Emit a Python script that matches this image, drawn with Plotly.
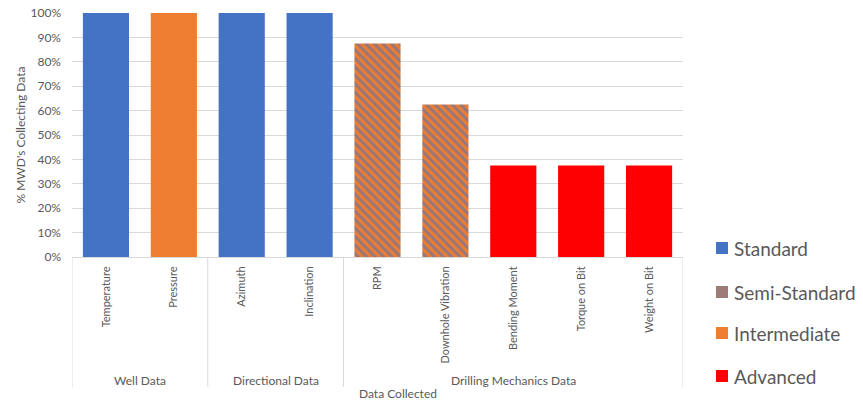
import plotly.graph_objects as go

categories = ["Temperature", "Pressure", "Azimuth", "Inclination", "RPM",
              "Downhole Vibration", "Bending Moment", "Torque on Bit", "Weight on Bit"]
values = [1.0, 1.0, 1.0, 1.0, 0.875, 0.625, 0.375, 0.375, 0.375]
levels = ["Standard", "Intermediate", "Standard", "Standard", "Semi-Standard",
          "Semi-Standard", "Advanced", "Advanced", "Advanced"]
groups = ["Well Data", "Directional Data", "Drilling Mechanics Data"]
group_sizes = [2, 2, 5]
legend_order = ["Standard", "Semi-Standard", "Intermediate", "Advanced"]
level_colors = {"Standard": "#4472C4", "Semi-Standard": "#9C7B78",
                "Intermediate": "#ED7D31", "Advanced": "#FF0000"}

FONT = "Lato"
GRAY = "#595959"

fig = go.Figure()
for lvl in legend_order:
    xs = [c for c, l in zip(categories, levels) if l == lvl]
    ys = [v for v, l in zip(values, levels) if l == lvl]
    if lvl == "Semi-Standard":
        marker = dict(color="#ED7D31",
                      pattern=dict(shape="\\", fgcolor="#4472C4", bgcolor="#ED7D31",
                                   size=6, solidity=0.5, fillmode="overlay"),
                      line=dict(width=0))
    else:
        marker = dict(color=level_colors[lvl], line=dict(width=0))
    fig.add_trace(go.Bar(x=xs, y=ys, name=lvl, marker=marker, width=0.68,
                         showlegend=False, hoverinfo="skip"))

L, R, T, B = 72, 180, 13, 146
W, H = 863, 403
pw = W - L - R
ph = H - T - B

def py(pix):
    return (H - B - pix) / ph

def px(pix):
    return (pix - L) / pw

shapes = []
annotations = []
start = 0
seps = [-0.5]
for g, n in zip(groups, group_sizes):
    end = start + n
    seps.append(end - 0.5)
    annotations.append(dict(x=(start + end - 1) / 2, y=py(380), xref="x", yref="paper",
                            text=g, showarrow=False, yanchor="middle",
                            font=dict(family=FONT, size=12, color=GRAY)))
    start = end
for s in seps:
    shapes.append(dict(type="line", xref="x", yref="paper", x0=s, x1=s,
                       y0=0, y1=py(387), line=dict(color="#D9D9D9", width=1)))

annotations.append(dict(x=px(398), y=py(393), xref="paper", yref="paper",
                        text="Data Collected", showarrow=False, yanchor="middle",
                        font=dict(family=FONT, size=12, color=GRAY)))

legend_y = {"Standard": 248, "Semi-Standard": 292, "Intermediate": 333, "Advanced": 376}
for lvl in legend_order:
    cy = legend_y[lvl]
    shapes.append(dict(type="rect", xref="paper", yref="paper",
                       x0=px(716), x1=px(728), y0=py(cy + 6), y1=py(cy - 6),
                       fillcolor=level_colors[lvl], line=dict(width=0)))
    annotations.append(dict(x=px(732), y=py(cy), xref="paper", yref="paper",
                            text=lvl, showarrow=False, xanchor="left", yanchor="middle",
                            font=dict(family=FONT, size=19, color=GRAY)))

fig.update_layout(
    width=W, height=H,
    margin=dict(l=L, r=R, t=T, b=B, autoexpand=False),
    plot_bgcolor="white", paper_bgcolor="white",
    font=dict(family=FONT, color=GRAY),
    shapes=shapes, annotations=annotations,
    xaxis=dict(categoryorder="array", categoryarray=categories, range=[-0.5, 8.5],
               tickangle=-90, tickfont=dict(family=FONT, size=11, color=GRAY),
               showline=True, linecolor="#D9D9D9", linewidth=1, ticks="",
               showgrid=False, fixedrange=True, ticklabelstandoff=4, automargin=False),
    yaxis=dict(range=[0, 1], tickformat=".0%", dtick=0.1,
               tickfont=dict(family=FONT, size=12, color=GRAY),
               showgrid=True, gridcolor="#D9D9D9", gridwidth=1,
               zeroline=False, showline=False, ticks="", ticklabelstandoff=10,
               title=dict(text="% MWD's Collecting Data",
                          font=dict(family=FONT, size=12, color=GRAY), standoff=2),
               fixedrange=True, automargin=False),
)

fig.write_html("out.html")
